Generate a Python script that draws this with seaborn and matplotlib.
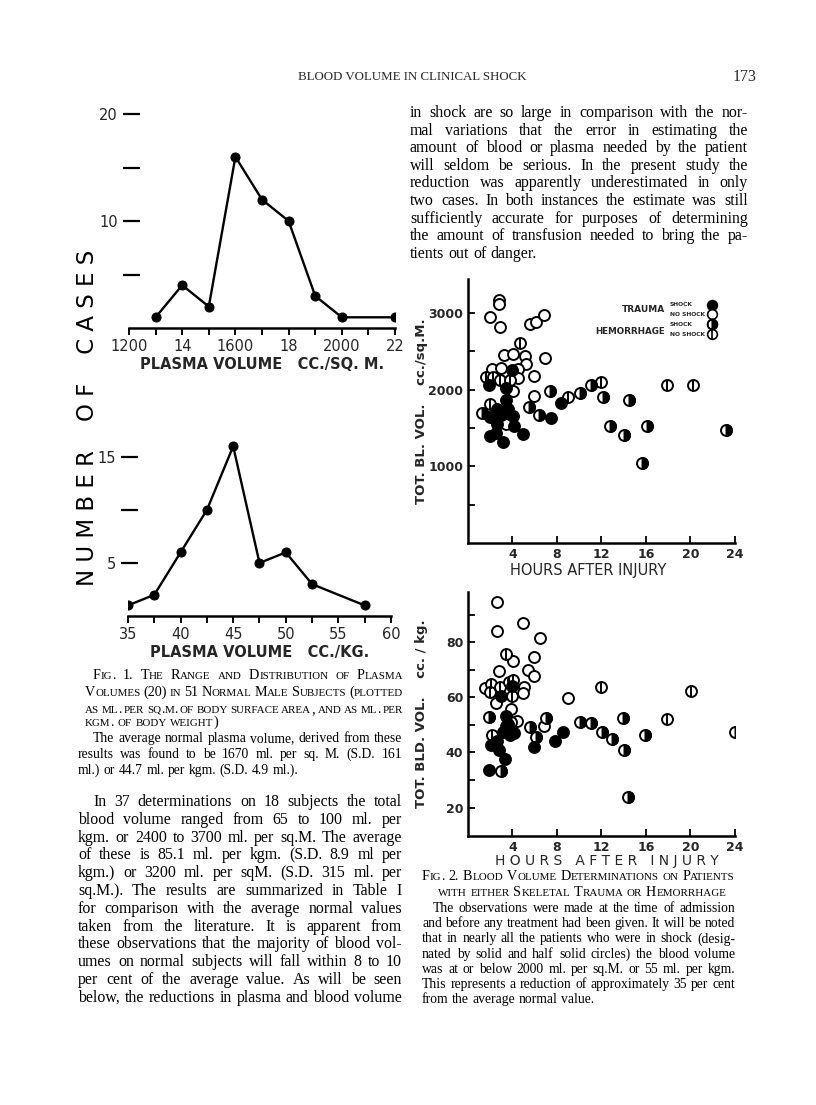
import numpy as np
import pandas as pd
import matplotlib
matplotlib.use("Agg")
import matplotlib.pyplot as plt
import seaborn as sns
from matplotlib.markers import MarkerStyle

sns.set_theme(style="white")
plt.rcParams['font.family'] = ['DejaVu Sans']

# ---- Fig. 1 data (number of cases per plasma volume class)
sqm_volume = [1300, 1400, 1500, 1600, 1700, 1800, 1900, 2000, 2200]
sqm_cases = [1, 4, 2, 16, 12, 10, 3, 1, 1]
kg_volume = [35, 37.5, 40, 42.5, 45, 47.5, 50, 52.5, 57.5]
kg_cases = [1, 2, 6, 10, 16, 5, 6, 3, 1]

# ---- Fig. 2 data, cc/sq.M.
sqm_trauma_shock_h = [1.9, 4.0, 3.4, 3.4, 2.6, 3.6, 2.0, 3.0, 4.05, 2.6, 4.1, 2.0, 2.5, 3.15, 4.95, 7.45, 8.4]
sqm_trauma_shock_v = [2060, 2250, 2020, 1860, 1750, 1740, 1640, 1670, 1650, 1550, 1520, 1390, 1430, 1320, 1420, 1630, 1830]
sqm_trauma_none_h = [2.8, 2.75, 1.95, 2.9, 5.6, 6.1, 6.8, 3.2, 4.05, 5.1, 6.9, 5.25, 2.2, 2.95, 4.5, 4.5, 5.9, 4.05, 5.95, 3.45]
sqm_trauma_none_v = [3160, 3110, 2950, 2820, 2850, 2875, 2970, 2450, 2465, 2440, 2415, 2335, 2265, 2280, 2270, 2150, 2180, 1975, 1920, 1555]
sqm_hem_shock_h = [1.25, 7.35, 5.5, 6.35, 10.05, 11.05, 12.1, 14.5, 12.75, 16.1, 23.2, 14.05, 15.6]
sqm_hem_shock_v = [1700, 1975, 1770, 1670, 1955, 2055, 1900, 1860, 1520, 1520, 1470, 1405, 1045]
sqm_hem_none_h = [1.65, 2.25, 2.85, 3.75, 4.7, 1.95, 12.0, 17.85, 20.2, 8.95]
sqm_hem_none_v = [2160, 2160, 2130, 2130, 2600, 1815, 2095, 2055, 2055, 1900]

# ---- Fig. 2 data, cc/kg.
kg_trauma_shock_h = [2.95, 4.0, 1.85, 3.3, 2.8, 2.1, 2.6, 3.45, 3.4, 3.15, 3.75, 4.1, 3.6, 5.9, 7.8, 8.55]
kg_trauma_shock_v = [60.5, 64.0, 33.6, 37.8, 41.0, 42.8, 44.0, 53.2, 49.5, 47.5, 46.2, 47.0, 50.5, 42.0, 44.0, 47.5]
kg_trauma_none_h = [2.65, 2.65, 4.95, 6.5, 4.05, 2.8, 5.4, 5.95, 5.9, 1.5, 5.0, 4.9, 2.55, 3.9, 4.4, 6.85, 9.0]
kg_trauma_none_v = [94.7, 84.2, 87.1, 81.4, 73.0, 69.7, 70.0, 74.8, 67.6, 63.5, 63.9, 61.6, 58.0, 55.6, 51.5, 49.5, 59.7]
kg_hem_shock_h = [1.9, 7.0, 10.05, 11.05, 12.05, 12.9, 13.95, 14.05, 15.9, 24.0, 14.35, 6.15, 3.0, 5.55]
kg_hem_shock_v = [52.8, 52.4, 51.0, 50.8, 47.5, 44.8, 52.5, 40.8, 46.3, 47.5, 23.8, 45.5, 33.3, 49.2]
kg_hem_none_h = [3.4, 2.05, 1.95, 2.85, 3.65, 4.05, 4.0, 3.85, 2.2, 11.95, 20.05, 17.85]
kg_hem_none_v = [75.8, 65.0, 61.8, 63.9, 65.4, 66.3, 60.4, 51.0, 46.5, 63.6, 62.3, 52.2]

# ---- page text
header = "BLOOD VOLUME IN CLINICAL SHOCK"
page_no = "173"
right_top = [
    "in shock are so large in comparison with the nor-",
    "mal variations that the error in estimating the",
    "amount of blood or plasma needed by the patient",
    "will seldom be serious.  In the present study the",
    "reduction was apparently underestimated in only",
    "two cases.  In both instances the estimate was still",
    "sufficiently accurate for purposes of determining",
    "the amount of transfusion needed to bring the pa-",
    "tients out of danger.",
]
fig1_caption = [
    "Fig. 1.  The Range and Distribution of Plasma",
    "Volumes (20) in 51 Normal Male Subjects (plotted",
    "as ml. per sq.m. of body surface area, and as ml. per",
    "kgm. of body weight)",
]
fig1_note = [
    "The average normal plasma volume, derived from these",
    "results was found to be 1670 ml. per sq. M. (S.D. 161",
    "ml.) or 44.7 ml. per kgm. (S.D. 4.9 ml.).",
]
left_para = [
    "In 37 determinations on 18 subjects the total",
    "blood volume ranged from 65 to 100 ml. per",
    "kgm. or 2400 to 3700 ml. per sq.M.  The average",
    "of these is 85.1 ml. per kgm. (S.D. 8.9 ml per",
    "kgm.) or 3200 ml. per sqM. (S.D. 315 ml. per",
    "sq.M.).  The results are summarized in Table I",
    "for comparison with the average normal values",
    "taken from the literature.  It is apparent from",
    "these observations that the majority of blood vol-",
    "umes on normal subjects will fall within 8 to 10",
    "per cent of the average value.  As will be seen",
    "below, the reductions in plasma and blood volume",
]
fig2_caption = [
    "Fig. 2.  Blood Volume Determinations on Patients",
    "with either Skeletal Trauma or Hemorrhage",
]
fig2_note = [
    "The observations were made at the time of admission",
    "and before any treatment had been given.  It will be noted",
    "that in nearly all the patients who were in shock (desig-",
    "nated by solid and half solid circles) the blood volume",
    "was at or below 2000 ml. per sq.M. or 55 ml. per kgm.",
    "This represents a reduction of approximately 35 per cent",
    "from the average normal value.",
]

W, H = 816, 1105
SERIF = "Liberation Serif"
fig = plt.figure(figsize=(W / 100, H / 100), dpi=100)
fig.patch.set_facecolor("white")
renderer = fig.canvas.get_renderer()


def fx(x):
    return x / W


def fy(y):
    return 1 - y / H


def add_ax(x0, y0, x1, y1):
    return fig.add_axes([fx(x0), fy(y1), (x1 - x0) / W, (y1 - y0) / H])


def word_runs(word, size, small):
    if not small:
        return [(word, size)]
    runs = []
    for ch in word:
        sz = size * 0.78 if ch.islower() else size
        if runs and runs[-1][1] == sz:
            runs[-1] = (runs[-1][0] + ch.upper(), sz)
        else:
            runs.append((ch.upper(), sz))
    return runs


def text_line(line, x0, x1, y, size, justify=True, small=False, center=None):
    words = line.split()
    pieces = []
    for w in words:
        items = []
        for s, sz in word_runs(w, size, small):
            t = fig.text(0, 0, s, fontsize=sz, family=SERIF, va="baseline", ha="left",
                         color="black")
            items.append([t, t.get_window_extent(renderer).width])
        pieces.append(items)
    widths = [sum(i[1] for i in items) for items in pieces]
    total = sum(widths)
    n = len(words)
    space = size * 100 / 72 * 0.26
    avail = x1 - x0
    if justify and n > 1:
        if total + (n - 1) * space * 0.7 > avail:
            f = (avail - (n - 1) * space * 0.7) / total
            for items in pieces:
                for it in items:
                    it[0].set_fontsize(it[0].get_fontsize() * f)
                    it[1] *= f
            total *= f
        gap = (avail - total) / (n - 1)
    else:
        gap = space
    start = x0
    if center is not None:
        start = center - (total + gap * (n - 1)) / 2
    cur = start
    for items in pieces:
        for t, w in items:
            t.set_position((fx(cur), fy(y)))
            cur += w
        cur += gap


def paragraph(lines, x0, x1, y0, dy, size, indent=0, last_full=False, small=False):
    for i, line in enumerate(lines):
        last = i == len(lines) - 1
        text_line(line, x0 + (indent if i == 0 else 0), x1, y0 + i * dy, size,
                  justify=(not last) or last_full, small=small)


# ---------------- Fig. 1 upper: cc/sq.M.
ax1 = add_ax(129, 114, 395, 328)
sns.lineplot(x=sqm_volume, y=sqm_cases, ax=ax1, color="black", linewidth=1.7,
             marker="o", markersize=6.5, markeredgecolor="black")
ax1.set_xlim(1200, 2200)
ax1.set_ylim(0, 20)
ax1.set_xticks(np.arange(1200, 2201, 100))
ax1.set_xticklabels(["1200", "", "14", "", "1600", "", "18", "", "2000", "", "22"])
ax1.set_yticks([5, 10, 15, 20])
ax1.set_yticklabels(["", "10", "", "20"])
ax1.spines["left"].set_position(("data", 1241))

# ---------------- Fig. 1 lower: cc/kg.
ax2 = add_ax(128, 441, 391, 616)
sns.lineplot(x=kg_volume, y=kg_cases, ax=ax2, color="black", linewidth=1.7,
             marker="o", markersize=6.5, markeredgecolor="black")
ax2.set_xlim(35, 60)
ax2.set_ylim(0, 16.5)
ax2.set_xticks(np.arange(35, 60.1, 2.5))
ax2.set_xticklabels(["35", "", "40", "", "45", "", "50", "", "55", "", "60"])
ax2.set_yticks([5, 10, 15])
ax2.set_yticklabels(["5", "", "15"])
ax2.spines["left"].set_position(("data", 35.95))

for ax, lab in [(ax1, "PLASMA VOLUME   CC./SQ. M."), (ax2, "PLASMA VOLUME   CC./KG.")]:
    ax.patch.set_alpha(0)
    for s in ["top", "right", "left"]:
        ax.spines[s].set_visible(False)
    ax.spines["bottom"].set_color("black")
    ax.spines["bottom"].set_linewidth(1.8)
    ax.tick_params(axis="x", direction="out", length=5, width=1.4, color="black",
                   labelsize=10.5, pad=3, bottom=True)
    ax.tick_params(axis="y", direction="out", length=12, width=1.6, color="black",
                   labelsize=10.5, pad=4, left=True)
    ax.set_xlabel(lab, fontsize=10.5, weight="bold", labelpad=2)
    ax.set_ylabel("")
    ax.grid(False)

fig.text(fx(88), fy(418), "N U M B E R    O F    C A S E S", rotation=90,
         fontsize=16.5, ha="center", va="center", color="black")


# ---------------- Fig. 2 scatter plots
def scatter_panel(ax, ts_h, ts_v, tn_h, tn_v, hs_h, hs_v, hn_h, hn_v, s=62):
    d_ts = pd.DataFrame({"hours": ts_h, "vol": ts_v})
    d_tn = pd.DataFrame({"hours": tn_h, "vol": tn_v})
    d_hs = pd.DataFrame({"hours": hs_h, "vol": hs_v})
    d_hn = pd.DataFrame({"hours": hn_h, "vol": hn_v})
    lw = 1.4
    # open circles (no shock, and the base of the half-solid ones)
    for d in [d_tn, d_hn, d_hs]:
        sns.scatterplot(data=d, x="hours", y="vol", ax=ax, s=s, color="white",
                        edgecolor="black", linewidth=lw, zorder=3)
    # vertical bar for hemorrhage without shock
    sns.scatterplot(data=d_hn, x="hours", y="vol", ax=ax, s=s, marker="|",
                    color="black", linewidth=lw, zorder=4)
    # half solid for hemorrhage with shock
    sns.scatterplot(data=d_hs, x="hours", y="vol", ax=ax, s=s,
                    marker=MarkerStyle("o", fillstyle="right"),
                    color="black", edgecolor="black", linewidth=lw, zorder=4)
    # solid for trauma with shock
    sns.scatterplot(data=d_ts, x="hours", y="vol", ax=ax, s=s, color="black",
                    edgecolor="black", linewidth=lw, zorder=5)
    ax.set_xlim(0, 24)
    ax.set_xticks([4, 8, 12, 16, 20, 24])
    ax.patch.set_alpha(0)
    for sp in ["top", "right"]:
        ax.spines[sp].set_visible(False)
    for sp in ["left", "bottom"]:
        ax.spines[sp].set_color("black")
        ax.spines[sp].set_linewidth(1.8)
    ax.tick_params(which="both", direction="in", color="black", width=1.3,
                   labelsize=9, left=True, bottom=True, length=5)
    ax.grid(False)


ax3 = add_ax(468, 279, 735, 543)
scatter_panel(ax3, sqm_trauma_shock_h, sqm_trauma_shock_v, sqm_trauma_none_h, sqm_trauma_none_v,
              sqm_hem_shock_h, sqm_hem_shock_v, sqm_hem_none_h, sqm_hem_none_v)
ax3.set_ylim(0, 3440)
ax3.set_yticks([1000, 2000, 3000])
ax3.set_yticks([500, 1500, 2500], minor=True)
ax3.set_xlabel("HOURS AFTER INJURY", fontsize=10.5, labelpad=3)
ax3.xaxis.set_label_coords(0.45, -0.075)
ax3.set_ylabel("TOT. BL. VOL.    cc./sq.M.", fontsize=9.5, weight="bold")
ax3.yaxis.set_label_coords(-0.15, 0.5)

ax4 = add_ax(468, 592, 735, 836)
scatter_panel(ax4, kg_trauma_shock_h, kg_trauma_shock_v, kg_trauma_none_h, kg_trauma_none_v,
              kg_hem_shock_h, kg_hem_shock_v, kg_hem_none_h, kg_hem_none_v)
ax4.set_ylim(9.7, 98.2)
ax4.set_yticks([20, 40, 60, 80])
ax4.set_yticks([30, 50, 70, 90], minor=True)
ax4.set_xlabel("H O U R S   A F T E R   I N J U R Y", fontsize=10, labelpad=3)
ax4.xaxis.set_label_coords(0.52, -0.075)
ax4.set_ylabel("TOT. BLD. VOL.    cc. / kg.", fontsize=9.5, weight="bold")
ax4.yaxis.set_label_coords(-0.15, 0.5)
for ax in (ax3, ax4):
    for t in ax.get_xticklabels() + ax.get_yticklabels():
        t.set_fontweight("bold")

# legend of the upper scatter plot
leg_y = [305, 314, 324, 334]
leg_x = 712
for yy, kind in zip(leg_y, ["ts", "tn", "hs", "hn"]):
    px, py = fx(leg_x), fy(yy)
    face = "black" if kind == "ts" else "white"
    fig.add_artist(plt.Line2D([px], [py], marker="o", markersize=7, markerfacecolor=face,
                              markeredgecolor="black", markeredgewidth=1.2, linestyle="none",
                              transform=fig.transFigure))
    if kind == "hs":
        fig.add_artist(plt.Line2D([px], [py], marker="o", fillstyle="right", markersize=7,
                                  markerfacecolor="black", markerfacecoloralt="none",
                                  markeredgecolor="black", markeredgewidth=1.2,
                                  linestyle="none", transform=fig.transFigure))
    if kind == "hn":
        fig.add_artist(plt.Line2D([px], [py], marker="|", markersize=7, markeredgecolor="black",
                                  markeredgewidth=1.2, linestyle="none", transform=fig.transFigure))
fig.text(fx(665), fy(310), "TRAUMA", fontsize=6.5, weight="bold", ha="right", va="center")
fig.text(fx(665), fy(332), "HEMORRHAGE", fontsize=6.3, weight="bold", ha="right", va="center")
for yy, lab in zip(leg_y, ["SHOCK", "NO SHOCK", "SHOCK", "NO SHOCK"]):
    fig.text(fx(670), fy(yy), lab, fontsize=4.3, weight="bold", ha="left", va="center")

# ---------------- page text
fig.text(fx(412), fy(80), header, fontsize=9.3, family=SERIF, ha="center", va="baseline")
fig.text(fx(757), fy(81), page_no, fontsize=11.5, family=SERIF, ha="right", va="baseline")

paragraph(right_top, 410, 748, 117, 17.6, 11.4)

paragraph(fig1_caption[:3], 85, 403, 679, 17, 10.2, indent=8, last_full=True, small=True)
text_line(fig1_caption[3], 85, 403, 726, 10.2, justify=False, small=True)
paragraph(fig1_note, 78, 402, 742, 16, 9.8, indent=15)
paragraph(left_para, 78, 402, 806, 17.8, 11.4, indent=15, last_full=True)

text_line(fig2_caption[0], 422, 735, 880, 10.2, small=True)
text_line(fig2_caption[1], 422, 735, 896, 10.2, justify=False, small=True, center=582)
paragraph(fig2_note, 422, 735, 912, 15.2, 9.8, indent=11)

fig.savefig("out.png", dpi=100, facecolor="white")
